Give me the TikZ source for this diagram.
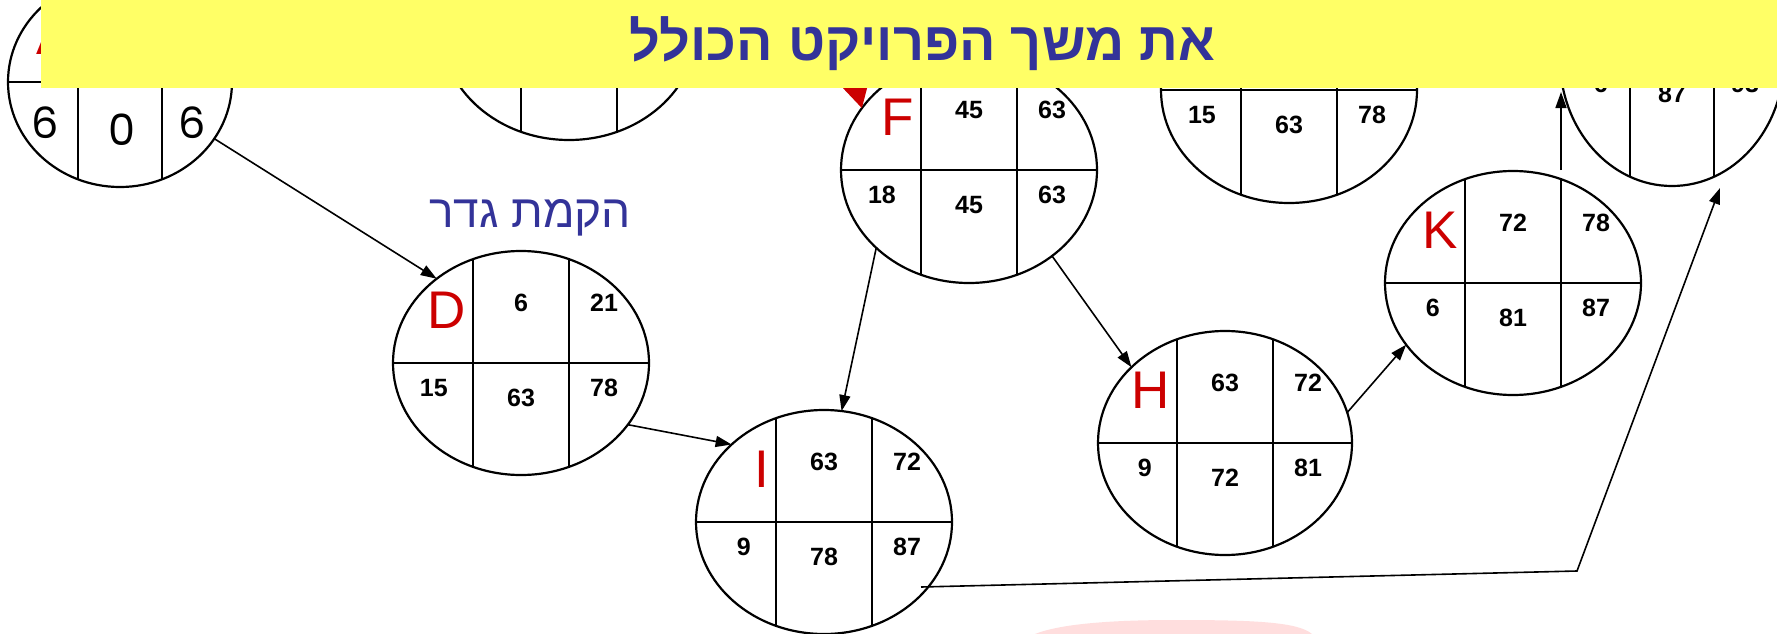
\documentclass[tikz,border=0pt]{standalone}
\usepackage{fontspec}
\usetikzlibrary{shapes.geometric,arrows.meta,calc}
\TeXXeTstate=1
\newfontfamily\hebfont[Script=Hebrew]{Liberation Sans}
\newfontfamily\numfont{Liberation Sans}
\newfontfamily\popfont{Poppins}
\definecolor{banneryellow}{RGB}{255,255,102}
\definecolor{titleblue}{RGB}{51,51,153}
\definecolor{letterred}{RGB}{204,0,0}
\definecolor{blobpink}{RGB}{255,222,222}

\tikzset{
  pertell/.style={ellipse, draw, line width=2.2pt, inner sep=0pt, outer sep=0pt},
  hline/.style={line width=2.8pt},
  vline/.style={line width=2pt},
  conn/.style={line width=1.6pt, -{Triangle[length=16pt,width=11pt]}},
  num/.style={font=\numfont\bfseries\fontsize{25}{30}\selectfont, inner sep=0pt},
  letter/.style={font=\numfont\fontsize{53}{60}\selectfont, text=letterred, inner sep=0pt, anchor=east},
  bignum/.style={font=\popfont\fontsize{43}{50}\selectfont, inner sep=0pt},
}

\newcommand\pertnode[5]{%
  \node[pertell, minimum width=#4*2pt, minimum height=#5*2pt] (#1) at (#2,#3) {};
  \draw[hline] (#1.west) -- (#1.east);
  \draw[vline] ($(#1.center)+(-0.375*#4,-0.927*#5)$) -- ($(#1.center)+(-0.375*#4,0.927*#5)$);
  \draw[vline] ($(#1.center)+(0.375*#4,-0.927*#5)$) -- ($(#1.center)+(0.375*#4,0.927*#5)$);
}
\newcommand\toplabels[4]{%
  \node[letter] (#1let) at ($(#1.center)+(-55,-53)$) {#2};
  \node[num] (#1es) at ($(#1.center)+(0,-60)$) {#3};
  \node[num] (#1ef) at ($(#1.center)+(83,-60)$) {#4};
}
\newcommand\botlabels[4]{%
  \node[num, anchor=east] (#1du) at ($(#1.center)+(-73,25)$) {#2};
  \node[num] (#1ls) at ($(#1.center)+(0,35)$) {#3};
  \node[num] (#1lf) at ($(#1.center)+(83,25)$) {#4};
}

\begin{document}
\begin{tikzpicture}[x=1pt,y=-1pt]
\useasboundingbox (0,0) rectangle (1777,634);
\fill[white] (0,0) rectangle (1777,634);

% faint watermark blob
\fill[blobpink] (1035,634) .. controls (1060,624) and (1110,620) .. (1175,620)
  .. controls (1255,620) and (1298,622) .. (1312,634) -- cycle;

% nodes
\pertnode{A}{120}{82}{112}{105}
\node[letter] (Alet) at (72,36) {A};
\node[bignum] (Adu) at (45,123) {6};
\node[bignum] (Als) at (122,130) {0};
\node[bignum] (Alf) at (192,123) {6};

\pertnode{B}{569}{28}{128}{112}

\pertnode{C}{1289}{90}{128}{113}
\botlabels{C}{15}{63}{78}

\pertnode{D}{521}{363}{128}{112}
\toplabels{D}{D}{6}{21}
\botlabels{D}{15}{63}{78}

\pertnode{F}{969}{170}{128}{113}
\toplabels{F}{F}{45}{63}
\botlabels{F}{18}{45}{63}

\pertnode{I}{824}{522}{128}{112}
\toplabels{I}{I}{63}{72}
\botlabels{I}{9}{78}{87}

\pertnode{H}{1225}{443}{127}{112}
\toplabels{H}{H}{63}{72}
\botlabels{H}{9}{72}{81}

\pertnode{K}{1513}{283}{128}{112}
\toplabels{K}{K}{72}{78}
\botlabels{K}{6}{81}{87}

\pertnode{TR}{1672}{59}{112}{127}
\node[num, anchor=east] (TRdu) at (1608,84) {6};
\node[num] (TRls) at (1672,94) {87};
\node[num] (TRlf) at (1745,84) {93};

% connectors
\coordinate (redsrc) at (831,-12);
\draw[line width=2pt, letterred, -{Triangle[length=24pt,width=26pt]}] (redsrc) -- (F.150);
\draw[conn] (A.-31) -- (D.135);
\draw[conn] (D.-30) -- (I.140);
\draw[conn] (F.-140) -- (I.81);
\draw[conn] (F.-46) -- (H.141);
\draw[conn] (H.14) -- (K.-150);
\draw[conn] ($(K.center)+(48,-113)$) -- ($(TR.center)+(-111,33)$);
\coordinate (bend) at (1577,571);
\draw[conn] ($(I.center)+(97,65)$) -- (bend) -- ($(TR.center)+(48,129)$);

% label
\node[font=\hebfont\fontsize{46}{50}\selectfont, text=titleblue, anchor=base, inner sep=0pt] (fence) at (530,227) {\beginR הקמת גדר\endR};

% banner
\fill[banneryellow] (41,0) rectangle (1777,88);
\node[font=\hebfont\bfseries\fontsize{54}{60}\selectfont, text=titleblue, anchor=base, inner sep=0pt] (title) at (922,61) {\beginR את משך הפרויקט הכולל\endR};
\end{tikzpicture}
\end{document}
